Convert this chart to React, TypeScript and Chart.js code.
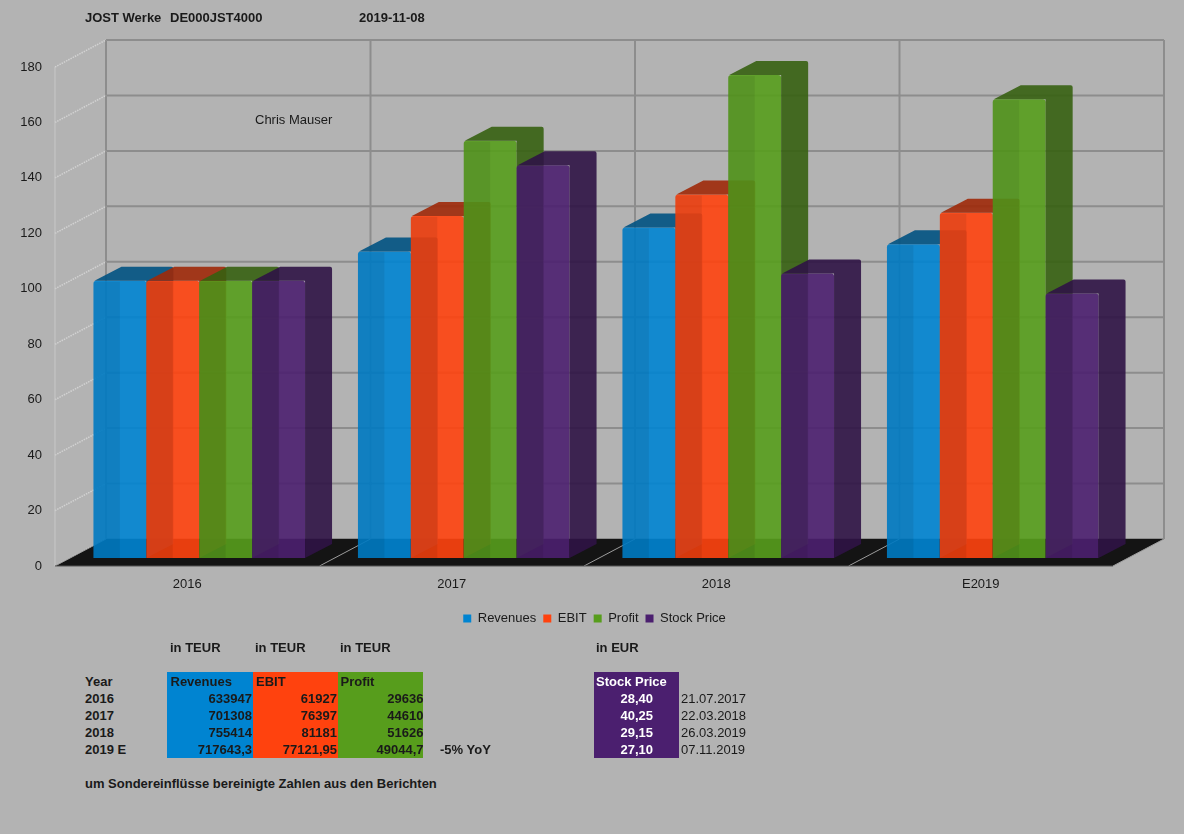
import React, { useEffect, useRef } from 'react';
import { Chart, registerables } from 'chart.js';

Chart.register(...registerables);

// ---------- chart data (index, 2016 = 100) ----------
const categories = ['2016', '2017', '2018', 'E2019'];
const seriesNames = ['Revenues', 'EBIT', 'Profit', 'Stock Price'];
const revenuesIndex = [100, 110.6, 119.2, 113.2];
const ebitIndex = [100, 123.4, 131.1, 124.5];
const profitIndex = [100, 150.5, 174.2, 165.5];
const stockIndex = [100, 141.7, 102.6, 95.4];
const yMin = 0;
const yMax = 180;
const yStep = 20;

// ---------- table data ----------
const unitLabels = ['in TEUR', 'in TEUR', 'in TEUR', 'in EUR'];
const tableYears = ['2016', '2017', '2018', '2019 E'];
const revenuesTEUR = ['633947', '701308', '755414', '717643,3'];
const ebitTEUR = ['61927', '76397', '81181', '77121,95'];
const profitTEUR = ['29636', '44610', '51626', '49044,7'];
const stockPrices = ['28,40', '40,25', '29,15', '27,10'];
const stockDates = ['21.07.2017', '22.03.2018', '26.03.2019', '07.11.2019'];
const yoyNote = '-5% YoY';
const footNote = 'um Sondereinflüsse bereinigte Zahlen aus den Berichten';

// ---------- styling ----------
const FONT = '"Liberation Sans", Arial, Helvetica, sans-serif';
const BG = '#b3b3b3';
const TEXT = '#1a1a1a';
const COLORS: number[][] = [
  [0, 132, 209],
  [255, 66, 14],
  [87, 157, 28],
  [75, 31, 111],
];
const WALL_DX = 51;
const WALL_DY = -27;
const BAR_SHIFT_X = 12;
const BAR_SHIFT_Y = -8;
const BAR_DX = 27;
const BAR_DY = -14;

function rgba(c: number[], f: number, a: number) {
  return `rgba(${Math.round(c[0] * f)},${Math.round(c[1] * f)},${Math.round(c[2] * f)},${a})`;
}

const threeDPlugin = {
  id: 'threeD',
  beforeDatasetsDraw(chart: any) {
    const ctx: CanvasRenderingContext2D = chart.ctx;
    const { left, right, top, bottom } = chart.chartArea;
    const ys = chart.scales.y;
    const xs = chart.scales.x;
    const n = chart.data.labels.length;
    const cw = (right - left) / n;
    const bounds: number[] = [];
    for (let k = 0; k < n; k++) bounds.push(xs.getPixelForValue(k) - cw / 2);
    bounds.push(xs.getPixelForValue(n - 1) + cw / 2);
    const line = (x1: number, y1: number, x2: number, y2: number) => {
      ctx.beginPath();
      ctx.moveTo(x1, y1);
      ctx.lineTo(x2, y2);
      ctx.stroke();
    };
    ctx.save();
    // back wall grid
    ctx.strokeStyle = '#8d8d8d';
    ctx.lineWidth = 2;
    ys.ticks.forEach((t: any) => {
      const py = ys.getPixelForValue(t.value) + WALL_DY;
      line(left + WALL_DX, py, right + WALL_DX, py);
    });
    bounds.forEach((bx) => line(bx + WALL_DX, top + WALL_DY, bx + WALL_DX, bottom + WALL_DY));
    // left wall
    ctx.strokeStyle = '#d2d2d2';
    ctx.lineWidth = 1.5;
    ctx.setLineDash([1.5, 1]);
    ys.ticks.forEach((t: any) => {
      const py = ys.getPixelForValue(t.value);
      line(left, py, left + WALL_DX, py + WALL_DY);
    });
    ctx.setLineDash([]);
    ctx.strokeStyle = '#c8c8c8';
    ctx.lineWidth = 1;
    line(left, top, left, bottom);
    // floor
    ctx.fillStyle = '#141414';
    ctx.beginPath();
    ctx.moveTo(left, bottom);
    ctx.lineTo(right, bottom);
    ctx.lineTo(right + WALL_DX, bottom + WALL_DY);
    ctx.lineTo(left + WALL_DX, bottom + WALL_DY);
    ctx.closePath();
    ctx.fill();
    ctx.strokeStyle = '#9c9c9c';
    ctx.lineWidth = 1;
    bounds.forEach((bx) => line(bx, bottom, bx + WALL_DX, bottom + WALL_DY));
    ctx.strokeStyle = '#555555';
    line(left, bottom, right, bottom);
    ctx.restore();
  },
  beforeDatasetDraw() {
    return false;
  },
  afterDatasetsDraw(chart: any) {
    const ctx: CanvasRenderingContext2D = chart.ctx;
    ctx.save();
    ctx.translate(BAR_SHIFT_X, BAR_SHIFT_Y);
    chart.data.datasets.forEach((ds: any, i: number) => {
      const meta = chart.getDatasetMeta(i);
      if (meta.hidden) return;
      const c = COLORS[i];
      meta.data.forEach((el: any) => {
        el.draw(ctx, chart.chartArea);
        const { x, y, base, width } = el.getProps(['x', 'y', 'base', 'width'], true);
        const l = x - width / 2;
        const r = x + width / 2;
        // subtle shading on left half of the front face
        ctx.fillStyle = 'rgba(0,0,0,0.07)';
        ctx.fillRect(l, y + 1, width / 2, base - y - 1);
        // side + top faces as one shape
        ctx.fillStyle = rgba(c, 0.62, 0.9);
        ctx.beginPath();
        ctx.moveTo(l + 1, y);
        ctx.lineTo(l + BAR_DX + 1, y + BAR_DY);
        ctx.lineTo(r + BAR_DX - 2, y + BAR_DY);
        ctx.quadraticCurveTo(r + BAR_DX, y + BAR_DY, r + BAR_DX, y + BAR_DY + 2);
        ctx.lineTo(r + BAR_DX, base + BAR_DY);
        ctx.lineTo(r, base);
        ctx.lineTo(r, y);
        ctx.closePath();
        ctx.fill();
      });
    });
    ctx.restore();
  },
};

function ChartCanvas() {
  const ref = useRef<HTMLCanvasElement | null>(null);
  useEffect(() => {
    if (!ref.current) return;
    const series = [revenuesIndex, ebitIndex, profitIndex, stockIndex];
    const font = { family: FONT, size: 13 };
    const chart = new Chart(ref.current, {
      type: 'bar',
      data: {
        labels: categories,
        datasets: series.map((d, i) => ({
          label: seriesNames[i],
          data: d,
          backgroundColor: rgba(COLORS[i], 1, 0.9),
          borderWidth: 0,
          borderRadius: 3,
          categoryPercentage: 0.8,
          barPercentage: 1.0,
          clip: false as any,
        })),
      },
      options: {
        animation: false,
        responsive: false,
        layout: { padding: { top: 67, left: 0, right: 0, bottom: 15 } },
        plugins: {
          tooltip: { enabled: false },
          legend: {
            position: 'bottom',
            labels: {
              boxWidth: 8,
              boxHeight: 8,
              padding: 7,
              color: TEXT,
              font,
              generateLabels: (c: any) =>
                c.data.datasets.map((ds: any, i: number) => ({
                  text: ds.label,
                  fillStyle: rgba(COLORS[i], 1, 1),
                  strokeStyle: rgba(COLORS[i], 1, 1),
                  lineWidth: 0,
                  hidden: false,
                  datasetIndex: i,
                  fontColor: TEXT,
                })),
            },
          },
        },
        scales: {
          x: {
            grid: { display: false, drawTicks: false },
            border: { display: false },
            ticks: { color: TEXT, font, padding: 11 },
            afterFit: (s: any) => {
              s.height = 39;
            },
          },
          y: {
            min: yMin,
            max: yMax,
            grid: { display: false, drawTicks: false },
            border: { display: false },
            ticks: { stepSize: yStep, color: TEXT, font, padding: 13 },
            afterFit: (s: any) => {
              s.width = 55;
            },
          },
          y2: {
            position: 'right',
            display: true,
            grid: { display: false, drawTicks: false },
            border: { display: false },
            ticks: { display: false },
            afterFit: (s: any) => {
              s.width = 76;
            },
          },
        },
      } as any,
      plugins: [threeDPlugin as any],
    });
    return () => chart.destroy();
  }, []);
  return (
    <canvas
      ref={ref}
      width={1189}
      height={650}
      style={{ position: 'absolute', left: 0, top: 0, width: 1189, height: 650, display: 'block' }}
    />
  );
}

type TProps = {
  x: number;
  y: number;
  w?: number;
  align?: 'left' | 'right' | 'center';
  bold?: boolean;
  color?: string;
  children: React.ReactNode;
};

function T({ x, y, w, align = 'left', bold = true, color = TEXT, children }: TProps) {
  return (
    <div
      style={{
        position: 'absolute',
        left: x,
        top: y - 8.5,
        width: w,
        height: 17,
        lineHeight: '17px',
        fontFamily: FONT,
        fontSize: 13,
        fontWeight: bold ? 700 : 400,
        color,
        textAlign: align,
        whiteSpace: 'nowrap',
        overflow: 'visible',
      }}
    >
      {children}
    </div>
  );
}

function Cell({ x, w, color }: { x: number; w: number; color: string }) {
  return (
    <div style={{ position: 'absolute', left: x, top: 672, width: w, height: 86, background: color }} />
  );
}

export default function App() {
  const rowY = [698.5, 715.5, 732.5, 749.5];
  const unitX = [170, 255, 340, 596];
  return (
    <div
      style={{
        position: 'absolute',
        left: 0,
        top: 0,
        width: 1184,
        height: 834,
        background: BG,
        overflow: 'hidden',
      }}
    >
      <ChartCanvas />
      <T x={85} y={17}>JOST Werke</T>
      <T x={170} y={17}>DE000JST4000</T>
      <T x={359} y={17}>2019-11-08</T>
      <T x={255} y={119.5} bold={false}>Chris Mauser</T>

      {unitLabels.map((u, i) => (
        <T key={'u' + i} x={unitX[i]} y={647}>{u}</T>
      ))}

      <Cell x={167} w={86} color="#0084d1" />
      <Cell x={253} w={85} color="#ff420e" />
      <Cell x={338} w={85} color="#579d1c" />
      <Cell x={594} w={85} color="#4b1f6f" />

      <T x={85} y={681.5}>Year</T>
      <T x={170.5} y={681.5}>{seriesNames[0]}</T>
      <T x={256} y={681.5}>{seriesNames[1]}</T>
      <T x={340.5} y={681.5}>{seriesNames[2]}</T>
      <T x={596} y={681.5} color="#ffffff">{seriesNames[3]}</T>

      {tableYears.map((yr, i) => (
        <React.Fragment key={'r' + i}>
          <T x={85} y={rowY[i]}>{yr}</T>
          <T x={167} w={85} y={rowY[i]} align="right">{revenuesTEUR[i]}</T>
          <T x={253} w={84} y={rowY[i]} align="right">{ebitTEUR[i]}</T>
          <T x={338} w={85.5} y={rowY[i]} align="right">{profitTEUR[i]}</T>
          <T x={594} w={59} y={rowY[i]} align="right" color="#ffffff">{stockPrices[i]}</T>
          <T x={681} y={rowY[i]} bold={false}>{stockDates[i]}</T>
        </React.Fragment>
      ))}
      <T x={440} y={749.5}>{yoyNote}</T>
      <T x={85} y={783.5}>{footNote}</T>
    </div>
  );
}
